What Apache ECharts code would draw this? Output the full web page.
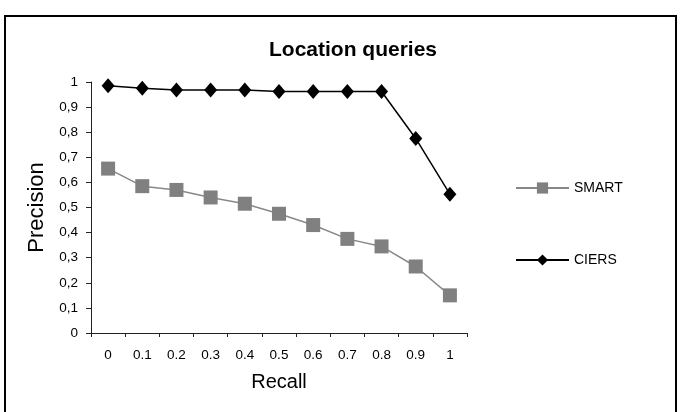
<!DOCTYPE html>
<html><head><meta charset="utf-8">
<script src="https://cdn.jsdelivr.net/npm/echarts@6/dist/echarts.min.js"></script>
<style>html,body{margin:0;padding:0;background:#fff}#c{width:680px;height:412px}</style>
</head><body><div id="c"></div>
<script>
const categories = ['0','0.1','0.2','0.3','0.4','0.5','0.6','0.7','0.8','0.9','1'];
const smart = [0.655,0.585,0.57,0.54,0.515,0.475,0.43,0.375,0.345,0.265,0.15];
const ciers = [0.985,0.975,0.968,0.968,0.968,0.962,0.962,0.962,0.962,0.775,0.553];
const chart = echarts.init(document.getElementById('c'));
const font = 'Liberation Sans, Arial, sans-serif';
chart.setOption({
  animation:false,
  backgroundColor:'#fff',
  title:{text:'Location queries',left:348,top:35,textAlign:'center',textStyle:{fontFamily:font,fontSize:21,fontWeight:'bold',color:'#000'}},
  grid:{left:91,right:213,top:82,bottom:79},
  legend:{orient:'vertical',left:510,top:176,itemGap:58,itemWidth:53,itemHeight:14,
    textStyle:{fontFamily:font,fontSize:14,color:'#000'},data:['SMART','CIERS']},
  xAxis:{type:'category',data:categories,boundaryGap:true,
    name:'Recall',nameLocation:'middle',nameGap:39,
    nameTextStyle:{fontFamily:font,fontSize:20,color:'#000'},
    axisLine:{lineStyle:{color:'#222',width:1}},
    axisTick:{show:true,length:4,inside:false,lineStyle:{color:'#222'}},
    axisLabel:{fontFamily:font,fontSize:13.5,color:'#000',margin:15}},
  yAxis:{type:'value',min:0,max:1,interval:0.1,
    name:'Precision',nameLocation:'middle',nameGap:41,
    nameTextStyle:{fontFamily:font,fontSize:22,color:'#000'},
    splitLine:{show:false},
    axisLine:{show:true,lineStyle:{color:'#222',width:1}},
    axisTick:{show:true,length:5,lineStyle:{color:'#222'}},
    axisLabel:{fontFamily:font,fontSize:13.5,color:'#000',margin:13,
      formatter:v=>String(Math.round(v*10)/10).replace('.',',')}},
  series:[
    {name:'SMART',type:'line',data:smart,symbol:'rect',symbolSize:14,
      lineStyle:{color:'#888',width:1.5},itemStyle:{color:'#808080'}},
    {name:'CIERS',type:'line',data:ciers,symbol:'diamond',symbolSize:[13,15],
      lineStyle:{color:'#000',width:1.5},itemStyle:{color:'#000'}}
  ],
  graphic:[{type:'rect',shape:{x:5,y:16,width:671,height:420},style:{fill:'none',stroke:'#000',lineWidth:2},silent:true}]
});
</script></body></html>
